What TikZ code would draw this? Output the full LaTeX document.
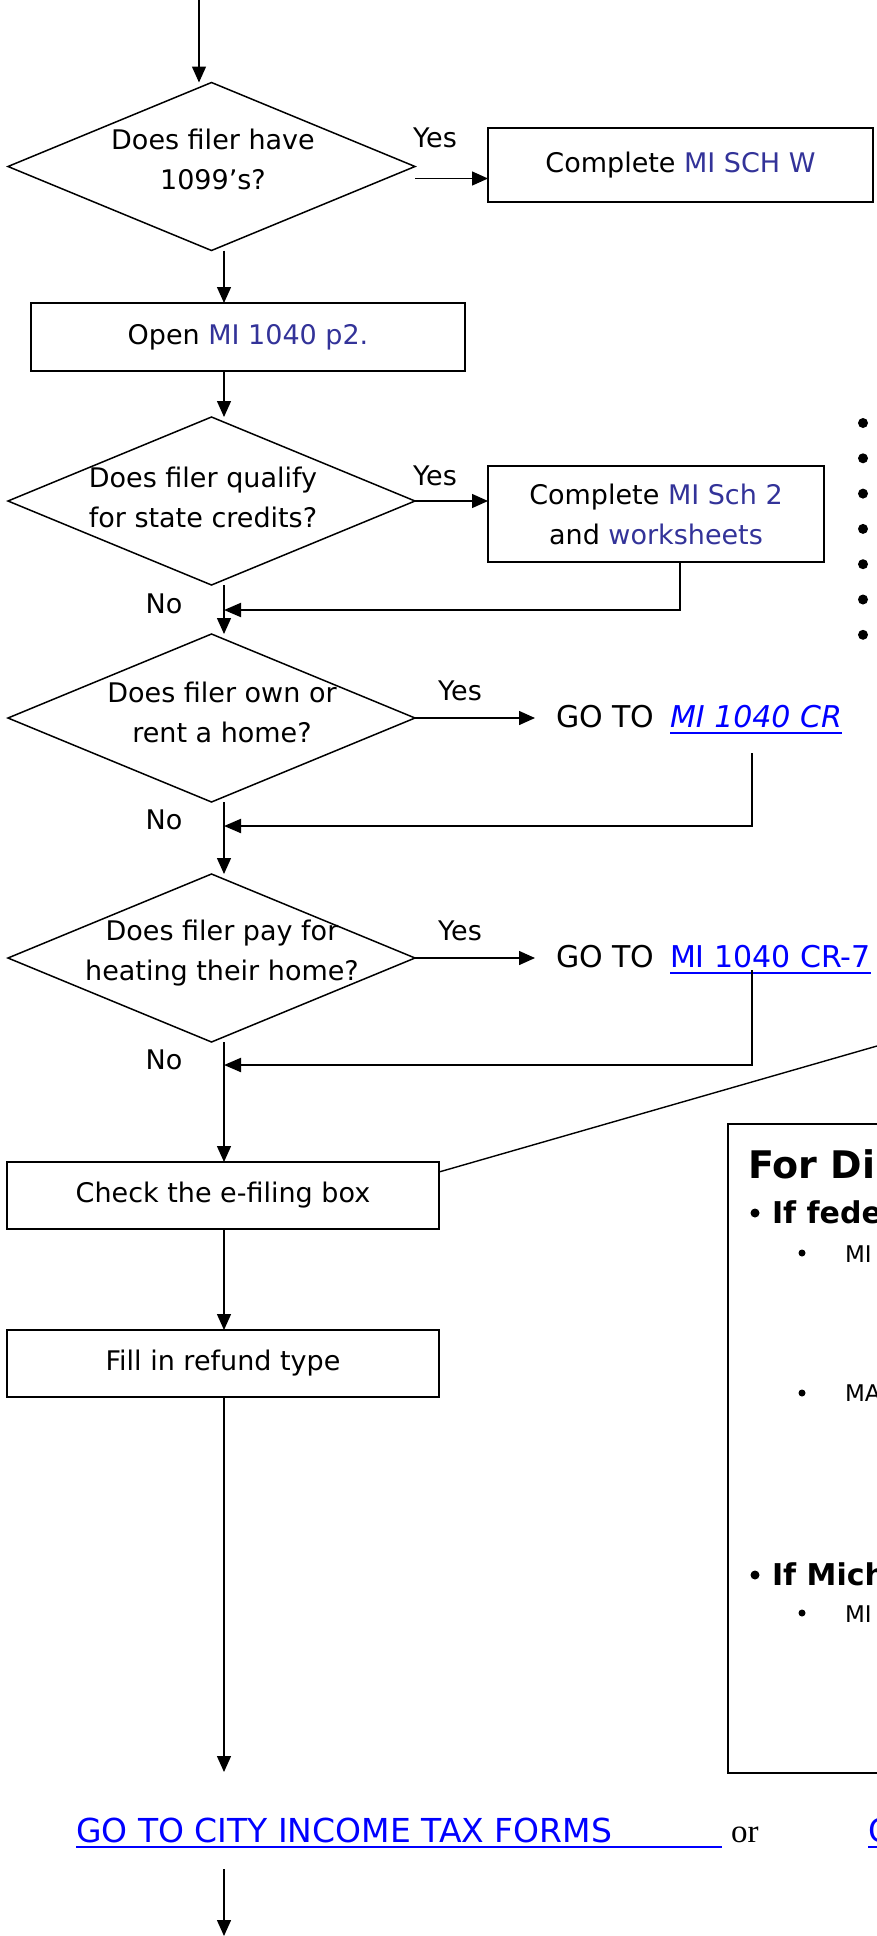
\documentclass[tikz,border=0pt]{standalone}
\usepackage{fontspec}
\setmainfont{DejaVu Sans}
\newfontfamily\serifrm{Liberation Serif}
\usetikzlibrary{shapes.geometric, arrows.meta, calc}

\definecolor{formblue}{RGB}{51,51,153}
\definecolor{linkblue}{RGB}{0,0,255}

\begin{document}
\begin{tikzpicture}[x=1pt, y=-1pt,
  every node/.style={inner sep=0pt, outer sep=0pt},
  txt/.style={font=\fontsize{27}{40}\selectfont, align=center},
  gotxt/.style={font=\fontsize{30}{36}\selectfont, anchor=base west},
  question/.style={diamond, draw, line width=1.5pt, minimum width=407pt, minimum height=168pt},
  stepbox/.style={draw, line width=1.6pt, font=\fontsize{27}{40}\selectfont, align=center},
  flow/.style={line width=1.4pt, -{Triangle[length=16pt,width=14pt]}},
  back/.style={line width=2pt, -{Triangle[length=17pt,width=14pt]}},
  link/.style={text=linkblue},
  ul/.style={draw=linkblue, line width=2.6pt},
  dot/.style={circle, fill, minimum size=10pt},
  notehead/.style={font=\fontsize{38}{44}\selectfont\bfseries, anchor=base west},
  notecase/.style={font=\fontsize{30}{36}\selectfont\bfseries, anchor=base west},
  noteitem/.style={font=\fontsize{23}{28}\selectfont, anchor=base west},
]
\path[use as bounding box, clip] (0,0) rectangle (877,1936);
\fill[white] (0,0) rectangle (877,1936);

\coordinate (spine) at (224,0);
\coordinate (top) at (199,0);

% decision diamonds and their questions
\node[question] (d1) at (211.5,166.5) {};
\node[txt] at (213,159) {Does filer have\\1099’s?};
\node[question] (d2) at (211.5,501) {};
\node[txt] at (203,497) {Does filer qualify\\for state credits?};
\node[question] (d3) at (211.5,718) {};
\node[txt] at (222,712) {Does filer own or\\rent a home?};
\node[question] (d4) at (211.5,958) {};
\node[txt] at (222,953) {Does filer pay for\\heating their home?};

% process boxes
\node[stepbox, minimum width=385pt, minimum height=74pt] (sw) at (680.5,165) {Complete \textcolor{formblue}{MI SCH W}};
\node[stepbox, minimum width=434pt, minimum height=68pt] (ob) at (248,337) {Open \textcolor{formblue}{MI 1040 p2.}};
\node[stepbox, minimum width=336pt, minimum height=96pt] (s2) at (656,514) {Complete \textcolor{formblue}{MI Sch 2}\\and \textcolor{formblue}{worksheets}};
\node[stepbox, minimum width=432pt, minimum height=67pt] (cb) at (223,1195.5) {Check the e-filing box};
\node[stepbox, minimum width=432pt, minimum height=67pt] (fb) at (223,1363.5) {Fill in refund type};

% branch labels
\node[txt] at (435,138) {Yes};
\node[txt] at (435,476) {Yes};
\node[txt] at (460,691) {Yes};
\node[txt] at (460,931) {Yes};
\node[txt] at (164,604) {No};
\node[txt] at (164,820) {No};
\node[txt] at (164,1060) {No};

% jumps to other forms
\node[gotxt] (g1) at (556,727) {GO TO};
\node[gotxt, link] (g1l) at (670,727) {\itshape MI 1040 CR};
\draw[ul] ([yshift=-6pt]g1l.base west) -- ([yshift=-6pt]g1l.base east);
\node[gotxt] (g2) at (556,967) {GO TO};
\node[gotxt, link] (g2l) at (670,967) {MI 1040 CR-7};
\draw[ul] ([yshift=-6pt]g2l.base west) -- ([yshift=-6pt]g2l.base east);

% city forms line
\node[font=\fontsize{33}{38}\selectfont, link, anchor=base west] (city) at (76,1842) {GO TO CITY INCOME TAX FORMS};
\draw[ul] (76,1847) -- (722,1847);
\node[font=\fontsize{33}{38}\selectfont\serifrm, anchor=base west] (or) at (731,1842) {or};
\node[font=\fontsize{33}{38}\selectfont, link, anchor=base west] (alt) at (868,1842) {GO TO};
\draw[ul] (868,1847) -- (900,1847);

% main flow
\draw[flow] (top) -- (top |- d1.north);
\coordinate (y1) at ([yshift=-12pt]d1.east);
\draw[flow] (y1) -- (y1 -| sw.west);
\draw[flow] (spine |- d1.south) -- (spine |- ob.north);
\draw[flow] (spine |- ob.south) -- (spine |- d2.north);
\draw[flow] (d2.east) -- (d2.east -| s2.west);
\draw[flow] (spine |- d2.south) -- (spine |- d3.north);
\coordinate (g1in) at ($(g1.west)+(-21,0)$);
\draw[flow] (d3.east) -- (d3.east -| g1in);
\draw[flow] (spine |- d3.south) -- (spine |- d4.north);
\coordinate (g2in) at ($(g2.west)+(-21,0)$);
\draw[flow] (d4.east) -- (d4.east -| g2in);
\draw[flow] (spine |- d4.south) -- (spine |- cb.north);
\draw[flow] (spine |- cb.south) -- (spine |- fb.north);
\coordinate (cityin) at (224,1772);
\draw[flow] (spine |- fb.south) -- (cityin);
\coordinate (cityout) at (224,1869);
\coordinate (bottom) at (224,1936);
\draw[flow] (cityout) -- (bottom);

% returns to the main line
\coordinate (r1) at (680,610);
\draw[back] (r1 |- s2.south) -- (r1) -- (spine |- r1);
\coordinate (r2a) at (752,753);
\coordinate (r2) at (752,826);
\draw[back] (r2a) -- (r2) -- (spine |- r2);
\coordinate (r3a) at (752,970);
\coordinate (r3) at (752,1065);
\draw[back] (r3a) -- (r3) -- (spine |- r3);

% callout to the direct deposit note
\coordinate (noteend) at (877,1046);
\draw[line width=1.4pt] ([yshift=-10pt]cb.north east) -- (noteend);

% direct deposit note
\node[draw, line width=2.4pt, minimum width=320pt, minimum height=649pt, anchor=north west] (note) at (728,1124) {};
\node[notehead] at (748,1178) {For Direct};
\fill (755,1213) circle (4.5);
\node[notecase] at (772,1223) {If federal};
\fill (802,1253) circle (3.5);
\node[noteitem] at (845,1262) {MI};
\fill (802,1393) circle (3.5);
\node[noteitem] at (845,1401) {MA};
\fill (755,1575) circle (4.5);
\node[notecase] at (772,1585) {If Michigan};
\fill (802,1613) circle (3.5);
\node[noteitem] at (845,1622) {MI};

% bullet column on the right
\foreach \k in {0,...,6} \node[dot] at (863,{423+35.3*\k}) {};
\end{tikzpicture}
\end{document}
